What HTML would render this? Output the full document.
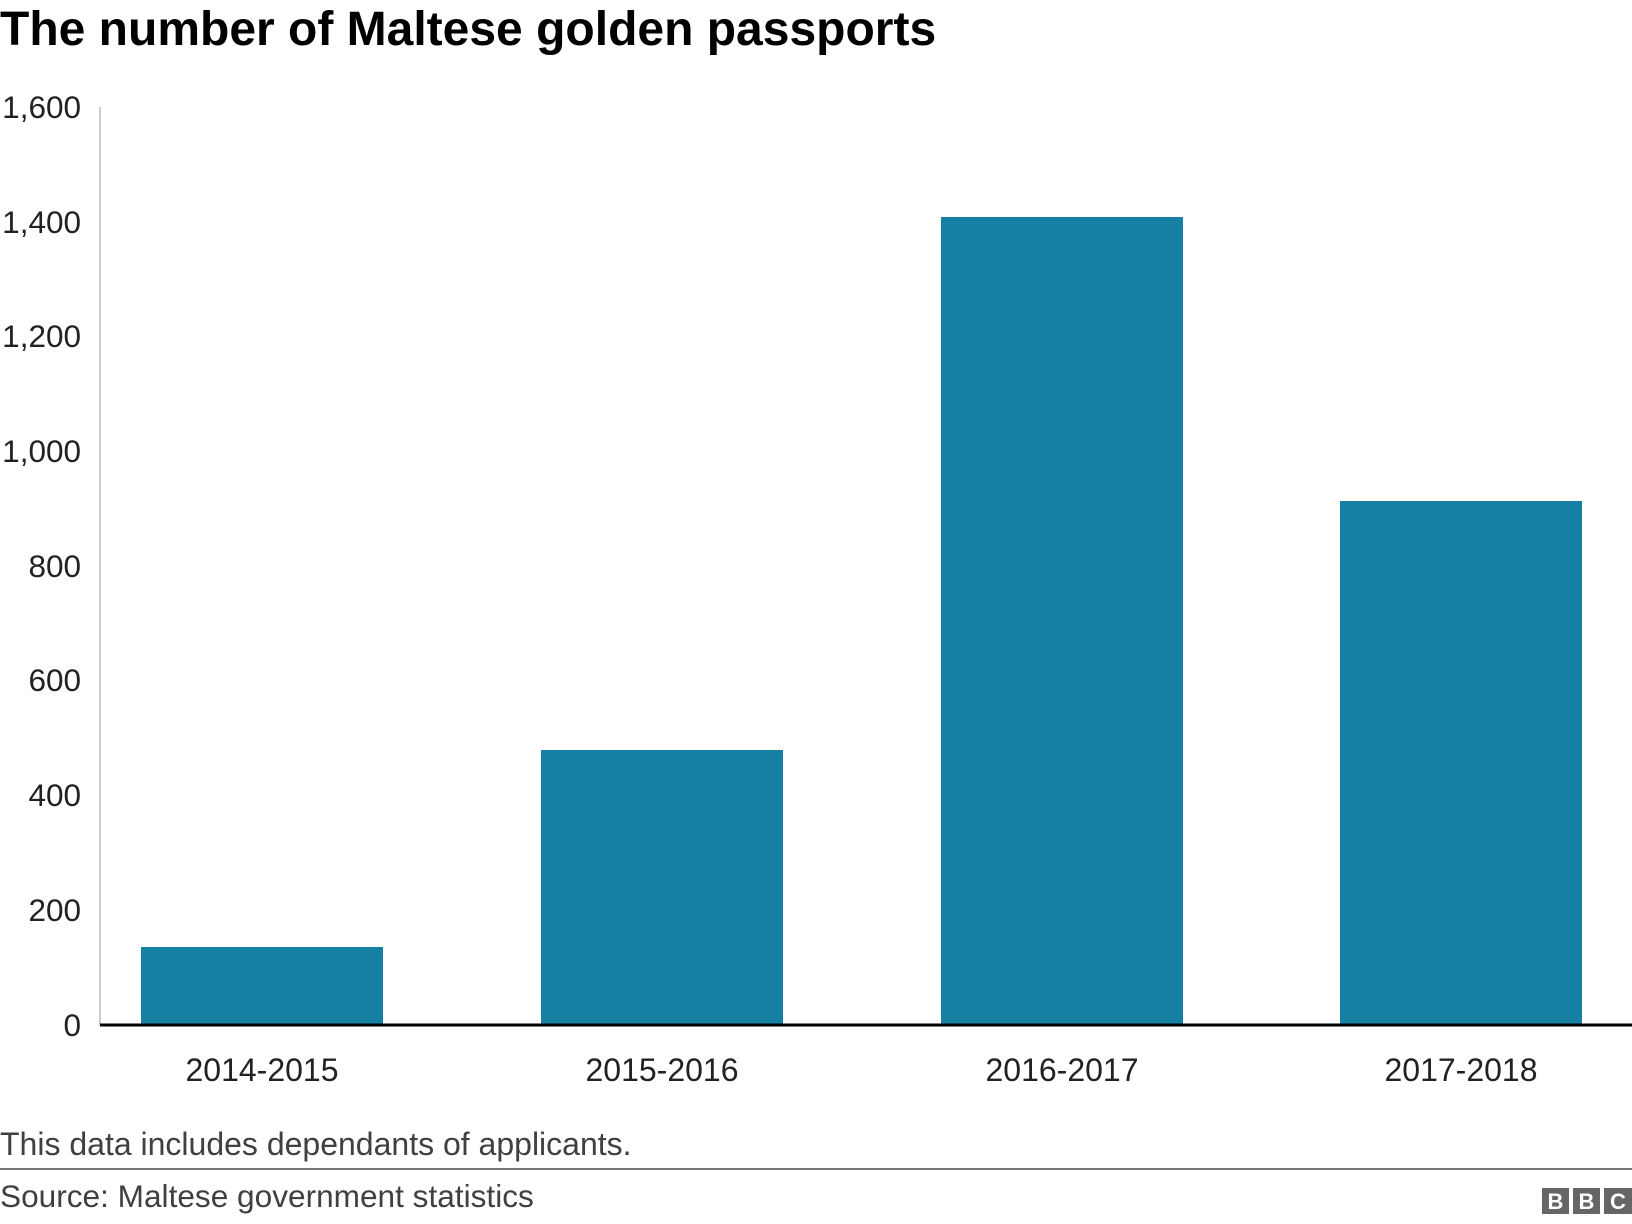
<!DOCTYPE html>
<html><head><style>
body{margin:0;background:#fff;width:1632px;height:1224px;overflow:hidden;font-family:"Liberation Sans",Arial,sans-serif;}
svg{display:block}
</style></head><body>
<svg width="1632" height="1224" xmlns="http://www.w3.org/2000/svg" font-family="Liberation Sans, Arial, sans-serif">
<text x="0" y="45" font-size="48" font-weight="bold" fill="#000">The number of Maltese golden passports</text>
<line x1="100" y1="107" x2="100" y2="1025" stroke="#ccc" stroke-width="2"/>
<g font-size="31.5" fill="#222" text-anchor="end">
<text x="81" y="118">1,600</text>
<text x="81" y="233">1,400</text>
<text x="81" y="347">1,200</text>
<text x="81" y="462">1,000</text>
<text x="81" y="577">800</text>
<text x="81" y="691">600</text>
<text x="81" y="806">400</text>
<text x="81" y="921">200</text>
<text x="81" y="1036">0</text>
</g>
<g fill="#1580a1">
<rect x="141" y="947" width="242" height="78"/>
<rect x="541" y="750" width="242" height="275"/>
<rect x="941" y="217" width="242" height="808"/>
<rect x="1340" y="501" width="242" height="524"/>
</g>
<line x1="100" y1="1025" x2="1632" y2="1025" stroke="#000" stroke-width="3"/>
<g font-size="32" fill="#222" text-anchor="middle">
<text x="262" y="1081">2014-2015</text>
<text x="662" y="1081">2015-2016</text>
<text x="1062" y="1081">2016-2017</text>
<text x="1461" y="1081">2017-2018</text>
</g>
<text x="0" y="1155" font-size="32" fill="#404040">This data includes dependants of applicants.</text>
<line x1="0" y1="1169" x2="1632" y2="1169" stroke="#777" stroke-width="2"/>
<text x="0" y="1207" font-size="31.6" fill="#404040">Source: Maltese government statistics</text>
<g fill="#666">
<rect x="1542" y="1188" width="27" height="26"/>
<rect x="1573" y="1188" width="27" height="26"/>
<rect x="1604" y="1188" width="28" height="26"/>
</g>
<g fill="#fff" font-size="22" font-weight="bold" text-anchor="middle">
<text x="1555.5" y="1209">B</text>
<text x="1586.5" y="1209">B</text>
<text x="1618" y="1209">C</text>
</g>
</svg>
</body></html>
